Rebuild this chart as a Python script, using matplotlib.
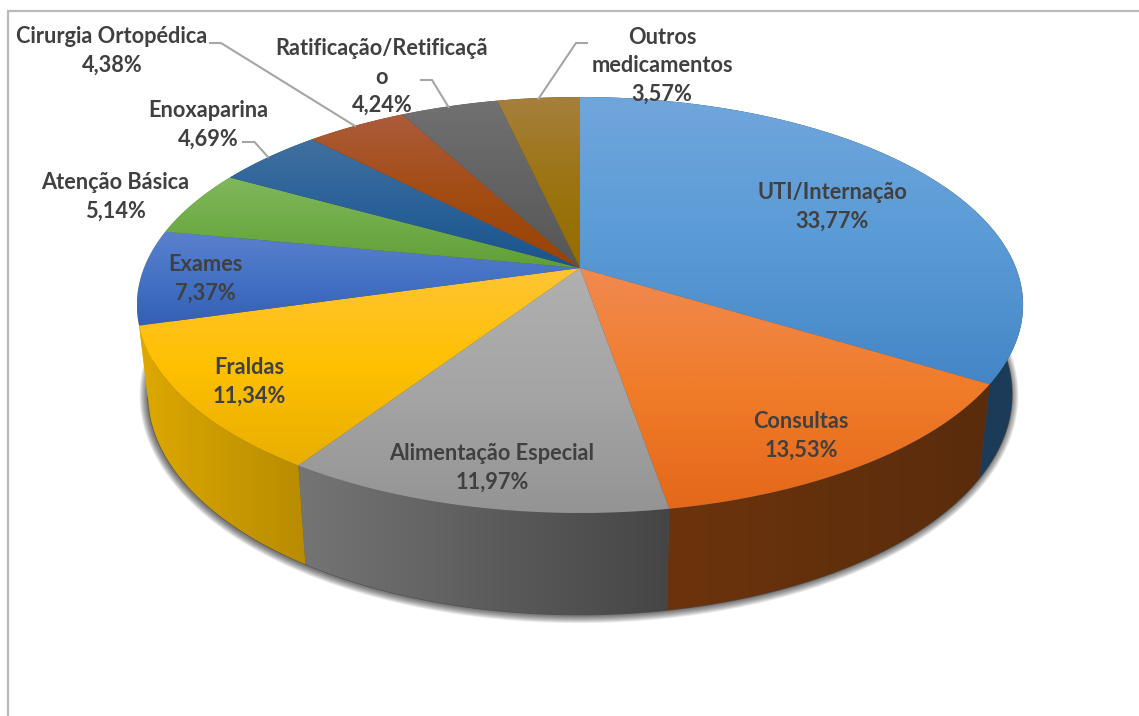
import numpy as np
import matplotlib
matplotlib.use("Agg")
import matplotlib.pyplot as plt
from matplotlib.colors import LinearSegmentedColormap
from matplotlib.patches import Polygon

# ---- data ----
categories = ["UTI/Internação", "Consultas", "Alimentação Especial", "Fraldas", "Exames",
              "Atenção Básica", "Enoxaparina", "Cirurgia Ortopédica",
              "Ratificação/Retificaçã\no", "Outros\nmedicamentos"]
values = [33.77, 13.53, 11.97, 11.34, 7.37, 5.14, 4.69, 4.38, 4.24, 3.57]

# ---- styles ----
top_colors = [("#70A6DC", "#5A9BD6", "#4486C6"), ("#F08A50", "#F07C2A", "#E4681A"),
              ("#B0B0B0", "#A5A5A5", "#949494"), ("#FFC435", "#FFC000", "#E8AE00"),
              ("#5A80CE", "#4472C4", "#345FB4"), ("#80B75C", "#70AD47", "#609F38"),
              ("#41709F", "#2A6299", "#1A548C"), ("#AC5C3C", "#A34C14", "#9A4304"),
              ("#717171", "#636363", "#565656"), ("#A67F3E", "#9C7412", "#956D00")]
side_colors = [("#1B3B58", "#1B3B58"), ("#6C340C", "#5A2C0D"),
               ("#757575", "#454545"), ("#DDA800", "#B88C00"),
               ("#DDA800", "#DDA800"), ("#4F7A30", "#426A28"),
               ("#1B3F60", "#1B3F60"), ("#6A320C", "#6A320C"),
               ("#454545", "#454545"), ("#6A5000", "#6A5000")]
label_xy = [(832, 207), (801, 436), (492, 467.5), (249, 382), (205, 278.5),
            (115, 196.5), (208, 124.5), (112, 51), (382, 77), (662, 66)]
leaders = [("Enoxaparina", [243, 254.5, 268], [142, 142, 157]),
           ("Cirurgia", [210, 221, 355], [43, 43, 126]),
           ("Ratificação", [421, 432, 448.5], [80, 80, 107]),
           ("Outros", [587, 576, 538.5], [43, 43, 98.7])]
TXT = "#404040"
LEAD = "#A6A6A6"
BORDER = "#BDB9B9"

CX, CY = 580.0, 268.0
A, B, K = 436.0, 201.4, 0.1779


def top_rim(theta):
    u, v = np.sin(theta), np.cos(theta)
    w = 1 + K * v
    return CX + A * u / w, CY - B * v / w


def bottom_rim(theta):
    x, y = top_rim(theta)
    return CX + 0.975 * (x - CX), 355 + 1.06 * (y - CY)


def gradient_fill(ax, xs, ys, colors, horizontal, z):
    poly = Polygon(np.column_stack([xs, ys]), closed=True, facecolor="none", edgecolor="none",
                   transform=ax.transData)
    ax.add_patch(poly)
    cmap = LinearSegmentedColormap.from_list("g", list(colors))
    g = np.linspace(0, 1, 256)
    g = g[None, :] if horizontal else g[:, None]
    im = ax.imshow(g, cmap=cmap, vmin=0, vmax=1, aspect="auto", zorder=z, interpolation="bilinear",
                   extent=(xs.min(), xs.max(), ys.max(), ys.min()))
    im.set_clip_path(poly)


fig = plt.figure(figsize=(11.39, 7.16), dpi=100, facecolor="white")
ax = fig.add_axes([0, 0, 1, 1])

fracs = np.array(values) / np.sum(values)
edges = np.concatenate([[0], np.cumsum(fracs)]) * 2 * np.pi

# shadow beneath the pie
full = np.linspace(0, 2 * np.pi, 361)
sx, sy = bottom_rim(full)
for lw in np.arange(15, 0, -1.5):
    ax.plot(sx - 1, sy + 1, color="black", alpha=0.065, lw=lw * 0.72, zorder=1, solid_joinstyle="round")
ax.fill(sx, sy, color="#505050", zorder=1)

# side walls, then top faces
for i, (t1, t2) in enumerate(zip(edges[:-1], edges[1:])):
    th = np.linspace(t1, t2, 200)
    xa, ya = top_rim(th)
    xb, yb = bottom_rim(th)
    xs = np.concatenate([xa, xb[::-1]])
    ys = np.concatenate([ya, yb[::-1]])
    gradient_fill(ax, xs, ys, side_colors[i], True, 2 + i * 0.01)

for i, (t1, t2) in enumerate(zip(edges[:-1], edges[1:])):
    th = np.linspace(t1, t2, 200)
    xa, ya = top_rim(th)
    xs = np.concatenate([[CX], xa])
    ys = np.concatenate([[CY], ya])
    gradient_fill(ax, xs, ys, top_colors[i], False, 3 + i * 0.01)

# leader lines
for _, lx, ly in leaders:
    ax.plot(lx, ly, color=LEAD, lw=1.5, zorder=4, solid_joinstyle="miter")

# labels
for name, val, (x, y) in zip(categories, values, label_xy):
    pct = f"{val:.2f}".replace(".", ",") + "%"
    ax.text(x, y, f"{name}\n{pct}", ha="center", va="center", color=TXT, family="Lato",
            weight="bold", fontsize=15.7, linespacing=1.45, zorder=5)

# chart frame
ax.plot([7.5, 7.5, 1139], [716, 11, 11], color=BORDER, lw=1.6, zorder=6, solid_joinstyle="miter")

ax.set_xlim(0, 1139)
ax.set_ylim(716, 0)
ax.axis("off")
fig.savefig("out.png", dpi=100, facecolor="white")
